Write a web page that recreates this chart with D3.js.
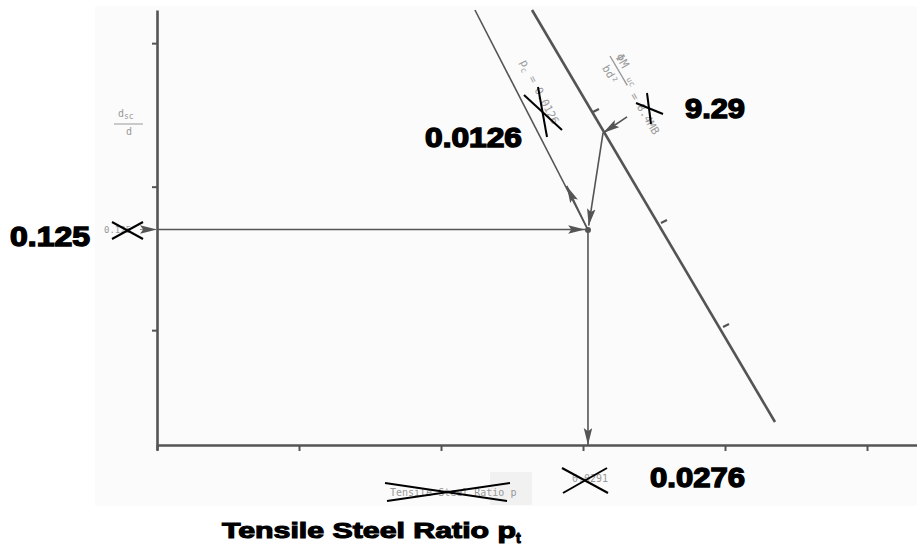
<!DOCTYPE html>
<html>
<head>
<meta charset="utf-8">
<script src="https://cdn.jsdelivr.net/npm/d3@7"></script>
<style>
  body { margin: 0; background: #fff; }
  svg { display: block; }
</style>
</head>
<body>
<svg width="917" height="550"></svg>
<script>
var svg = d3.select('svg'),
    width = +svg.attr('width'),
    height = +svg.attr('height');

// chart units (nomograph grid units)
var xTicks = [0, 1, 2, 3, 4, 5],
    yTicks = [0.8, 1.8, 2.8];

// the two slanted scales of the nomograph
var pcLine = [[2.239, 3.031], [3.035, 1.498]],          // p_c = 0.0126
    muLine = [[2.641, 3.031], [4.352, 0.160]],          // phi Mu / bd^2
    muTicks = [[3.070, 2.321], [3.549, 1.547], [3.986, 0.822]];

// solution path
var startY = 1.502,                 // d_sc/d = 0.125
    hit = [3.035, 1.498],           // intersection point
    muHit = [3.141, 2.174],         // 9.29 on the Mu line
    muFrom = [3.310, 2.286],
    pcArrow = [[3.035, 1.498], [2.885, 1.805]];

// result labels
var yValue = '0.125', pcValue = '0.0126', muValue = '9.29', xValue = '0.0276';

var x = d3.scaleLinear().domain([0, 5.352]).range([157, 917]),
    y = d3.scaleLinear().domain([-0.035, 3.031]).range([450, 10]);

var ink = '#545454';

// faint scan background
svg.append('rect')
    .attr('x', 95).attr('y', 6)
    .attr('width', width - 95).attr('height', 500)
    .attr('fill', '#fbfbfb');
svg.append('rect')
    .attr('x', 490).attr('y', 472)
    .attr('width', 42).attr('height', 33)
    .attr('fill', '#f1f1f1');

var defs = svg.append('defs');
defs.append('marker')
    .attr('id', 'arrow')
    .attr('viewBox', '0 0 16 8')
    .attr('refX', 16).attr('refY', 4)
    .attr('markerWidth', 17).attr('markerHeight', 9)
    .attr('markerUnits', 'userSpaceOnUse')
    .attr('orient', 'auto')
  .append('path')
    .attr('d', 'M0,0L16,4L0,8L3,4Z')
    .attr('fill', ink);

// axes
var xAxis = svg.append('g')
    .attr('transform', 'translate(0,' + y(0) + ')')
    .call(d3.axisBottom(x).tickValues(xTicks).tickSize(6).tickSizeOuter(0).tickFormat(''));
var yAxis = svg.append('g')
    .attr('transform', 'translate(' + x(0) + ',0)')
    .call(d3.axisLeft(y).tickValues(yTicks).tickSize(5).tickSizeOuter(0).tickFormat(''));
[xAxis, yAxis].forEach(function(a) {
  a.select('.domain').attr('stroke', ink).attr('stroke-width', 2.6);
  a.selectAll('.tick line').attr('stroke', ink).attr('stroke-width', 2);
});

var line = d3.line()
    .x(function(d) { return x(d[0]); })
    .y(function(d) { return y(d[1]); });

svg.append('path').attr('d', line(pcLine))
    .attr('fill', 'none').attr('stroke', ink).attr('stroke-width', 1.6);
svg.append('path').attr('d', line(muLine))
    .attr('fill', 'none').attr('stroke', ink).attr('stroke-width', 2.6);

// small ticks on the Mu line
svg.selectAll('.mutick')
  .data(muTicks)
  .enter().append('line')
    .attr('class', 'mutick')
    .attr('x1', function(d) { return x(d[0]); })
    .attr('y1', function(d) { return y(d[1]); })
    .attr('x2', function(d) { return x(d[0]) + 6; })
    .attr('y2', function(d) { return y(d[1]) - 3; })
    .attr('stroke', ink).attr('stroke-width', 2.2);

// arrows of the solution path
var arrows = [
  [[0, startY], [hit[0] - 0.02, startY]],
  [hit, [hit[0], 0]],
  [muHit, [hit[0] + 0.005, hit[1] + 0.03]],
  pcArrow,
  [muFrom, muHit]
];
svg.selectAll('.arrow')
  .data(arrows)
  .enter().append('path')
    .attr('class', 'arrow')
    .attr('d', function(d) { return line(d); })
    .attr('fill', 'none')
    .attr('stroke', ink)
    .attr('stroke-width', 1.6)
    .attr('marker-end', 'url(#arrow)');

// arrow into the y axis from the old label
svg.append('path')
    .attr('d', line([[-0.12, startY], [0, startY]]))
    .attr('stroke', '#888').attr('stroke-width', 1)
    .attr('marker-end', 'url(#arrow)');

svg.append('circle')
    .attr('cx', x(hit[0])).attr('cy', y(hit[1]))
    .attr('r', 3).attr('fill', ink);

// old scanned labels (grey)
var grey = '#999999', mono = '"DejaVu Sans Mono", monospace';
svg.append('text').attr('x', 118).attr('y', 117)
    .attr('font-family', mono).attr('font-size', 10).attr('fill', grey)
    .text('d').append('tspan').attr('font-size', 8).attr('dy', 2).text('sc');
svg.append('line').attr('x1', 114).attr('x2', 143).attr('y1', 124).attr('y2', 124)
    .attr('stroke', grey).attr('stroke-width', 1);
svg.append('text').attr('x', 126).attr('y', 135)
    .attr('font-family', mono).attr('font-size', 10).attr('fill', grey).text('d');
svg.append('text').attr('x', 104).attr('y', 233)
    .attr('font-family', mono).attr('font-size', 9).attr('fill', grey).text('0.125');

var pcAngle = Math.atan2(y(pcLine[1][1]) - y(pcLine[0][1]), x(pcLine[1][0]) - x(pcLine[0][0])) * 180 / Math.PI,
    muAngle = Math.atan2(y(muLine[1][1]) - y(muLine[0][1]), x(muLine[1][0]) - x(muLine[0][0])) * 180 / Math.PI;

var pc = svg.append('text')
    .attr('transform', 'translate(520,62) rotate(' + pcAngle + ')')
    .attr('font-family', mono).attr('font-size', 11).attr('fill', grey)
    .text('p');
pc.append('tspan').attr('font-size', 8).attr('dy', 3).text('c');
pc.append('tspan').attr('dy', -3).text(' = 0.0126');

var mu = svg.append('g').attr('transform', 'translate(610,56) rotate(' + muAngle + ')');
mu.append('text').attr('x', 3).attr('y', -4)
    .attr('font-family', mono).attr('font-size', 12).attr('fill', grey).text('ΦM');
mu.append('text').attr('x', 28).attr('y', -2)
    .attr('font-family', mono).attr('font-size', 8).attr('fill', grey).text('uc');
mu.append('line').attr('x1', 0).attr('x2', 34).attr('y1', 0).attr('y2', 0)
    .attr('stroke', grey).attr('stroke-width', 1.4);
mu.append('text').attr('x', 6).attr('y', 13)
    .attr('font-family', mono).attr('font-size', 11).attr('fill', grey).text('bd²');
mu.append('text').attr('x', 44).attr('y', 3)
    .attr('font-family', mono).attr('font-size', 11).attr('fill', grey).text('= 8.4MB');

svg.append('text').attr('x', 390).attr('y', 496)
    .attr('font-family', mono).attr('font-size', 10).attr('fill', grey)
    .text('Tensile Steel Ratio p');
svg.append('text').attr('x', 572).attr('y', 482)
    .attr('font-family', mono).attr('font-size', 10).attr('fill', grey).text('0.0291');

// crossing-out marks
var crosses = [
  [[112, 222], [143, 239], [112, 239], [143, 222]],
  [[524, 95], [562, 130], [538, 87], [547, 137]],
  [[636, 103], [663, 114], [647, 93], [651, 124]],
  [[385, 483], [507, 501], [387, 501], [510, 483]],
  [[562, 468], [608, 493], [563, 493], [607, 468]]
];
crosses.forEach(function(c) {
  svg.append('line').attr('x1', c[0][0]).attr('y1', c[0][1]).attr('x2', c[1][0]).attr('y2', c[1][1])
      .attr('stroke', '#000').attr('stroke-width', 2);
  svg.append('line').attr('x1', c[2][0]).attr('y1', c[2][1]).attr('x2', c[3][0]).attr('y2', c[3][1])
      .attr('stroke', '#000').attr('stroke-width', 2);
});

// new values
var bold = '"Liberation Sans", Arial, sans-serif';
function big(txt, px, py, w) {
  return svg.append('text')
      .attr('x', px).attr('y', py)
      .attr('font-family', bold).attr('font-weight', 'bold')
      .attr('font-size', 27).attr('fill', '#000')
      .attr('stroke', '#000').attr('stroke-width', 1.4)
      .attr('textLength', w).attr('lengthAdjust', 'spacingAndGlyphs')
      .text(txt);
}
big(yValue, 10, 246, 80);
big(pcValue, 425, 147, 97);
big(muValue, 685, 118, 60);
big(xValue, 650, 487, 95);

var title = svg.append('text')
    .attr('x', 222).attr('y', 538)
    .attr('font-family', bold).attr('font-weight', 'bold')
    .attr('font-size', 22).attr('fill', '#000')
    .attr('stroke', '#000').attr('stroke-width', 1.1);
title.append('tspan').attr('textLength', 294).attr('lengthAdjust', 'spacingAndGlyphs')
    .text('Tensile Steel Ratio p');
title.append('tspan').attr('font-size', 14).attr('dy', 5).text('t');
</script>
</body>
</html>
